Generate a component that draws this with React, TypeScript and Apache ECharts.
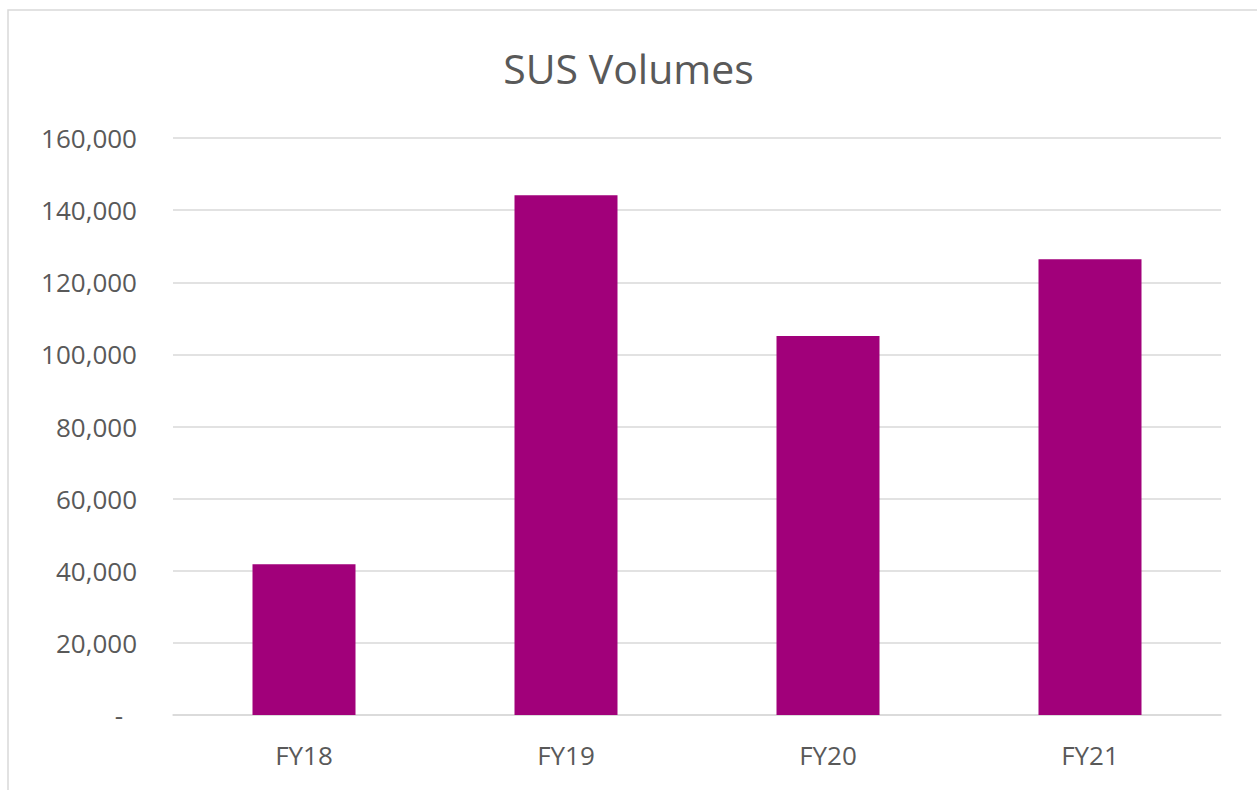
import React, { useEffect, useRef } from "react";
import * as echarts from "echarts";

const categories = ["FY18", "FY19", "FY20", "FY21"];
const volumes = [41800, 144100, 105100, 126400];
const yTicks = { min: 0, max: 160000, interval: 20000 };
const title = "SUS Volumes";

export default function App() {
  const ref = useRef<HTMLDivElement>(null);
  useEffect(() => {
    document.body.style.margin = "0";
    const chart = echarts.init(ref.current!, null, { renderer: "svg" });
    const font = "'Open Sans', 'Noto Sans', sans-serif";
    chart.setOption({
      animation: false,
      backgroundColor: "#ffffff",
      title: {
        text: title,
        left: "center",
        top: 42,
        textStyle: { color: "#595959", fontSize: 41, fontWeight: "normal", fontFamily: font },
      },
      graphic: [
        {
          type: "rect",
          shape: { x: 8, y: 10, width: 1400, height: 900 },
          style: { fill: "none", stroke: "#d9d9d9", lineWidth: 1.5 },
          silent: true,
        },
      ],
      grid: { left: 173, right: 36, top: 138, bottom: 75 },
      xAxis: {
        type: "category",
        data: categories,
        axisLine: { lineStyle: { color: "#d9d9d9", width: 1.5 } },
        axisTick: { show: false },
        axisLabel: { color: "#595959", fontSize: 26, fontFamily: font, margin: 27 },
      },
      yAxis: {
        type: "value",
        min: yTicks.min,
        max: yTicks.max,
        interval: yTicks.interval,
        axisLine: { show: false },
        axisTick: { show: false },
        splitLine: { lineStyle: { color: "#d9d9d9", width: 1.5 } },
        axisLabel: {
          color: "#595959",
          fontSize: 26,
          fontFamily: font,
          margin: 36,
          formatter: (v: number) => (v === 0 ? "{d|-}" : v.toLocaleString("en-US")),
          rich: { d: { color: "#595959", fontSize: 26, fontFamily: font, padding: [0, 14, 0, 0] } },
        },
      },
      series: [
        {
          type: "bar",
          data: volumes,
          barWidth: 103,
          itemStyle: { color: "#A1007A" },
        },
      ],
    });
    return () => chart.dispose();
  }, []);
  return <div ref={ref} style={{ width: 1257, height: 790 }} />;
}
